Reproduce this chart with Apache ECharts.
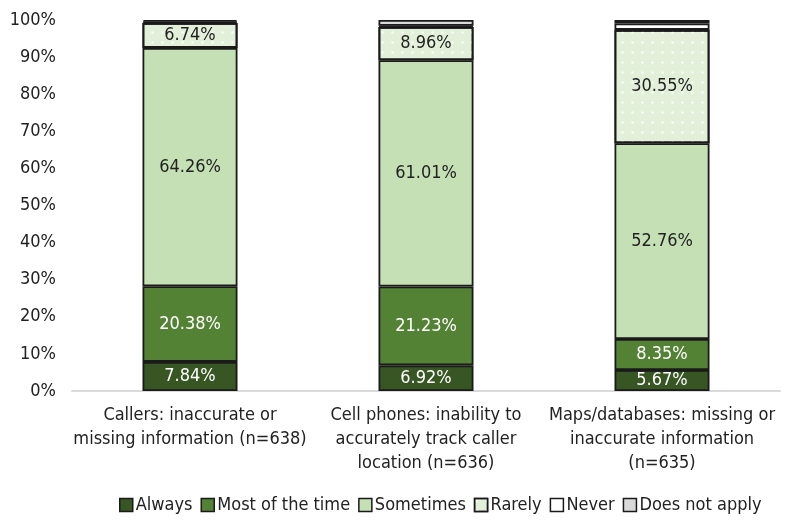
<!DOCTYPE html>
<html>
<head>
<meta charset="utf-8">
<script src="https://cdn.jsdelivr.net/npm/echarts@6/dist/echarts.min.js"></script>
<style>
  body { margin: 0; background: #fff; }
  #chart { width: 789px; height: 520px; }
</style>
</head>
<body>
<div id="chart"></div>
<script>
var categories = [
    'Callers: inaccurate or\nmissing information (n=638)',
    'Cell phones: inability to\naccurately track caller\nlocation (n=636)',
    'Maps/databases: missing or\ninaccurate information\n(n=635)'
];
var alwaysArr = [7.84, 6.92, 5.67];
var mostArr = [20.38, 21.23, 8.35];
var sometimesArr = [64.26, 61.01, 52.76];
var rarelyArr = [6.74, 8.96, 30.55];
var neverArr = [0.31, 0.30, 1.73];
var doesNotApplyArr = [0.47, 1.58, 0.94];
var yTicks = [0, 10, 20, 30, 40, 50, 60, 70, 80, 90, 100];

var font = "'DejaVu Sans Condensed', 'Liberation Sans Narrow', sans-serif";

function makeSeries(name, data, color, labelColor, showLabel, decal) {
    var s = {
        name: name,
        type: 'bar',
        stack: 'total',
        barWidth: 95,
        data: data,
        itemStyle: { color: color, borderColor: '#1a1a1a', borderWidth: 1.8 },
        label: {
            show: showLabel,
            position: 'inside',
            color: labelColor,
            fontFamily: font,
            fontSize: 18,
            formatter: function (p) { return p.value.toFixed(2) + '%'; }
        }
    };
    if (decal) s.itemStyle.decal = decal;
    return s;
}

var myChart = echarts.init(document.getElementById('chart'));
var option = {
    animation: false,
    grid: { left: 72, right: 9, top: 20, bottom: 129 },
    legend: {
        bottom: 1,
        left: 114,
        icon: 'rect',
        itemWidth: 13,
        itemHeight: 13,
        itemGap: 8,
        textStyle: { fontFamily: font, fontSize: 18, color: '#222', padding: [0, 0, 0, -2] },
        itemStyle: { borderColor: '#1a1a1a', borderWidth: 1.5 },
        data: ['Always', 'Most of the time', 'Sometimes', 'Rarely', 'Never', 'Does not apply']
    },
    xAxis: {
        type: 'category',
        data: categories,
        axisLine: { lineStyle: { color: '#d9d9d9', width: 2 } },
        axisTick: { show: false },
        axisLabel: { fontFamily: font, fontSize: 18, color: '#222', lineHeight: 24, margin: 12, interval: 0 }
    },
    yAxis: {
        type: 'value',
        min: 0,
        max: 100,
        interval: 10,
        axisLine: { show: false },
        axisTick: { show: false },
        splitLine: { show: false },
        axisLabel: {
            fontFamily: font, fontSize: 18, color: '#222', margin: 16,
            formatter: function (v) { return yTicks.indexOf(v) >= 0 ? v + '%' : ''; }
        }
    },
    series: [
        makeSeries('Always', alwaysArr, '#375623', '#fff', true),
        makeSeries('Most of the time', mostArr, '#548235', '#fff', true),
        makeSeries('Sometimes', sometimesArr, '#c5e0b4', '#222', true),
        makeSeries('Rarely', rarelyArr, '#e2f0d9', '#222', true, {
            symbol: 'circle', symbolSize: 0.5, color: 'rgba(255,255,255,0.85)',
            dashArrayX: 5, dashArrayY: 5
        }),
        makeSeries('Never', neverArr, '#ffffff', '#222', false),
        makeSeries('Does not apply', doesNotApplyArr, '#d9d9d9', '#222', false)
    ]
};
myChart.setOption(option);
</script>
</body>
</html>
